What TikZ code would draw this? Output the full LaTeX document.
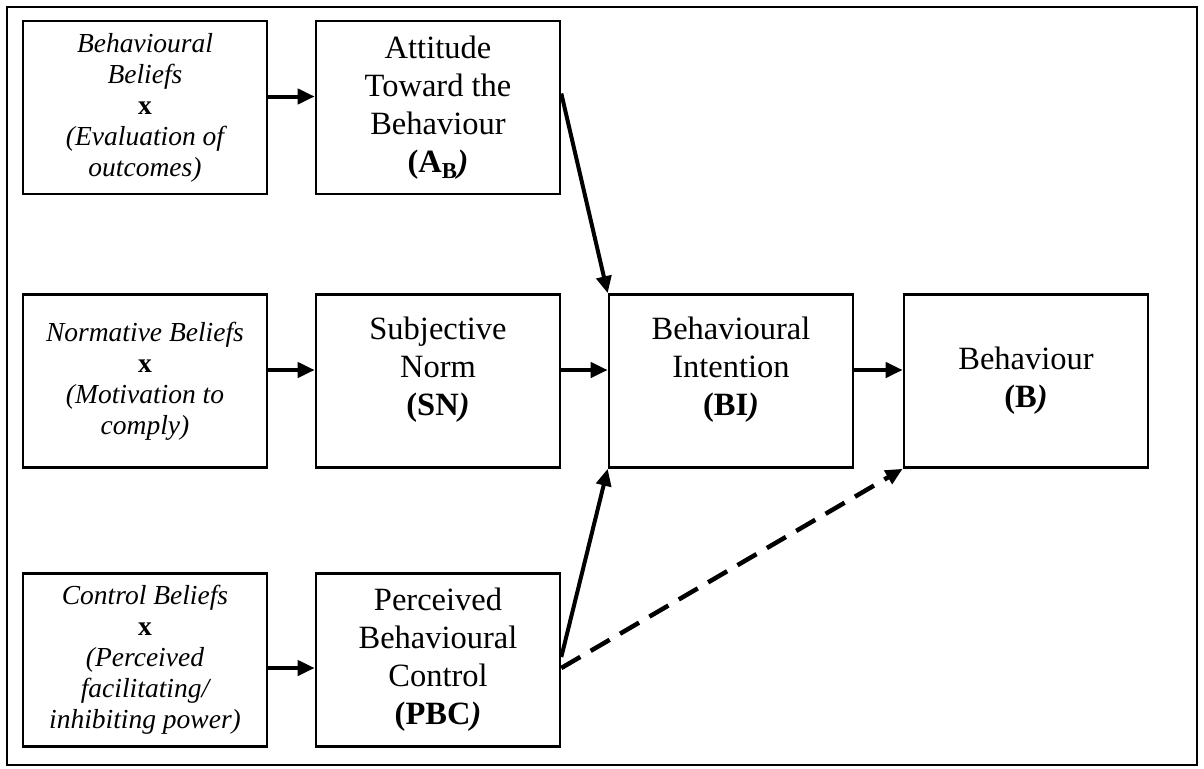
\documentclass[tikz,border=0pt]{standalone}
\usepackage{fontspec}
\setmainfont{Liberation Serif}
\usetikzlibrary{arrows.meta}
\begin{document}
\begin{tikzpicture}[x=1pt,y=-1pt,
  box/.style={draw,line width=2.6pt,minimum width=244pt,minimum height=173pt,inner sep=0pt,align=center},
  lbox/.style={box,font=\fontsize{27.5}{31}\selectfont\itshape},
  rbox/.style={box,font=\fontsize{32.5}{38}\selectfont},
  rtext/.style={align=center,inner sep=0pt,font=\fontsize{32.5}{38}\selectfont},
  arr/.style={line width=4pt,-{Triangle[length=17pt,width=15pt]}},
  darr/.style={arr,line width=4.5pt,dash pattern=on 22pt off 12pt}]
\useasboundingbox (0,0) rectangle (1204,768);
\draw[line width=2.6pt] (7,7) rectangle (1197,765);

\newcommand{\xx}{\textbf{\upshape x}}
\newcommand{\bparen}[1]{\textbf{(#1\textit{)}}}

% row 1
\node[lbox] (bb) at (145,107.5) {Behavioural\\Beliefs\\\xx\\(Evaluation of\\outcomes)};
\node[rbox] (ab) at (438,107.5) {Attitude\\Toward the\\Behaviour\\\bparen{A\textsubscript{B}}};
% row 2
\node[lbox] (nb) at (145,381) {Normative Beliefs\\\xx\\(Motivation to\\comply)};
\node[rbox] (sn) at (438,381) {};
\node[rtext] (snt) at ([yshift=11pt]sn.center) {Subjective\\Norm\\\bparen{SN}};
\node[rbox] (bi) at (731,381) {};
\node[rtext] (bit) at ([yshift=11pt]bi.center) {Behavioural\\Intention\\\bparen{BI}};
\node[rbox] (b) at (1026,381) {Behaviour\\\bparen{B}};
% row 3
\node[lbox] (cb) at (145,660) {Control Beliefs\\\xx\\(Perceived\\facilitating/\\inhibiting power)};
\node[rbox] (pbc) at (438,660) {Perceived\\Behavioural\\Control\\\bparen{PBC}};

% connectors
\draw[arr] ([yshift=11pt]bb.east) -- ([yshift=11pt]ab.west);
\draw[arr] ([yshift=11pt]nb.east) -- ([yshift=11pt]sn.west);
\draw[arr] ([yshift=-8pt]cb.east) -- ([yshift=-8pt]pbc.west);
\draw[arr] ([yshift=14pt]ab.east) -- (bi.north west);
\draw[arr] ([yshift=11pt]sn.east) -- ([yshift=11pt]bi.west);
\draw[arr] ([yshift=3pt]pbc.east) -- (bi.south west);
\draw[arr] ([yshift=11pt]bi.east) -- ([yshift=11pt]b.west);
\draw[darr] ([yshift=-8pt]pbc.east) -- (b.south west);
\end{tikzpicture}
\end{document}
